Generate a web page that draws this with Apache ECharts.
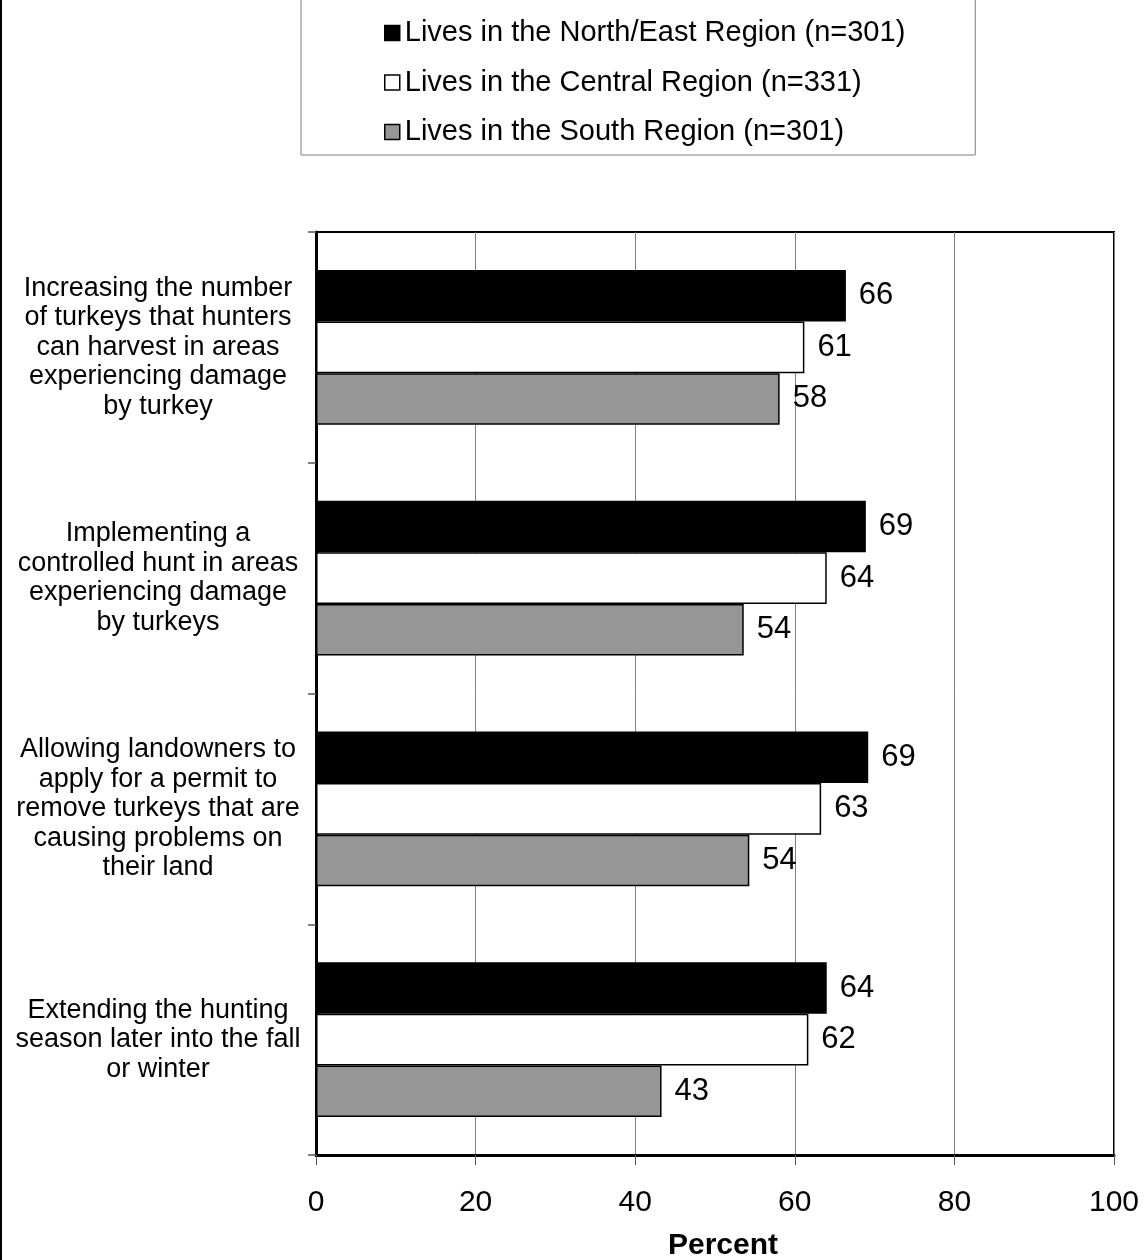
<!DOCTYPE html>
<html>
<head>
<meta charset="utf-8">
<script src="https://cdn.jsdelivr.net/npm/echarts@6/dist/echarts.min.js"></script>
<style>
  html, body { margin: 0; padding: 0; background: #fff; }
  #chart { width: 1144px; height: 1260px; }
</style>
</head>
<body>
<div id="chart"></div>
<script>
const categories = [
  "Increasing the number\nof turkeys that hunters\ncan harvest in areas\nexperiencing damage\nby turkey",
  "Implementing a\ncontrolled hunt in areas\nexperiencing damage\nby turkeys",
  "Allowing landowners to\napply for a permit to\nremove turkeys that are\ncausing problems on\ntheir land",
  "Extending the hunting\nseason later into the fall\nor winter"
];
const seriesNames = [
  "Lives in the North/East Region (n=301)",
  "Lives in the Central Region (n=331)",
  "Lives in the South Region (n=301)"
];
const northEast = [66.4, 68.9, 69.2, 64.0];
const central = [61.2, 64.0, 63.3, 61.7];
const south = [58.1, 53.6, 54.3, 43.3];
const xTicks = [0, 20, 40, 60, 80, 100];

const FONT = '"Liberation Sans", Arial, Helvetica, sans-serif';
const colors = ['#000000', '#ffffff', '#969696'];
const dataSets = [northEast, central, south];

const chart = echarts.init(document.getElementById('chart'), null, { renderer: 'canvas' });

const series = dataSets.map((d, i) => ({
  name: seriesNames[i],
  type: 'bar',
  data: d,
  barGap: '0%',
  barCategoryGap: '33%',
  itemStyle: { color: colors[i], borderColor: '#000', borderWidth: 1.5 },
  label: {
    show: true,
    position: 'right',
    distance: 13,
    color: '#000',
    fontFamily: FONT,
    fontSize: 31,
    formatter: p => Math.round(p.value)
  },
  emphasis: { disabled: true },
  animation: false
}));

chart.setOption({
  animation: false,
  backgroundColor: '#ffffff',
  textStyle: { fontFamily: FONT },
  grid: {
    left: 316, right: 30, top: 232, bottom: 105,
    containLabel: false,
    outerBoundsMode: 'none',
    show: true, borderColor: '#000', borderWidth: 2, backgroundColor: 'transparent'
  },
  legend: {
    orient: 'vertical',
    left: 301,
    top: -2,
    padding: [20, 70, 8, 83],
    itemGap: 19.5,
    itemWidth: 15,
    itemHeight: 15,
    borderColor: '#808080',
    borderWidth: 1,
    icon: 'rect',
    data: seriesNames,
    itemStyle: { borderColor: '#000', borderWidth: 1.5 },
    textStyle: { fontFamily: FONT, fontSize: 29, color: '#000', lineHeight: 30 },
    selectedMode: false
  },
  xAxis: {
    type: 'value',
    min: xTicks[0],
    max: xTicks[xTicks.length - 1],
    interval: 20,
    position: 'bottom',
    axisLine: { show: true, lineStyle: { color: '#000', width: 3 } },
    axisTick: { show: true, length: 10, lineStyle: { color: '#555', width: 1 } },
    axisLabel: { color: '#000', fontSize: 30, fontFamily: FONT, margin: 33 },
    splitLine: { show: true, lineStyle: { color: '#808080', width: 1 } },
    name: 'Percent',
    nameLocation: 'middle',
    nameGap: 76,
    nameTextStyle: { color: '#000', fontSize: 30, fontWeight: 'bold', fontFamily: FONT, padding: [0, 0, 0, 16] }
  },
  yAxis: {
    type: 'category',
    data: categories,
    inverse: true,
    axisLine: { show: true, lineStyle: { color: '#000', width: 3 } },
    axisTick: { show: true, length: 8, lineStyle: { color: '#555', width: 1.5 } },
    axisLabel: {
      color: '#000', fontSize: 27, fontFamily: FONT, lineHeight: 29.5,
      align: 'center', margin: 158
    },
    splitLine: { show: false }
  },
  graphic: [{
    type: 'line',
    shape: { x1: 1, y1: 0, x2: 1, y2: 1260 },
    style: { stroke: '#000', lineWidth: 2 }
  }],
  series: series
});
</script>
</body>
</html>
